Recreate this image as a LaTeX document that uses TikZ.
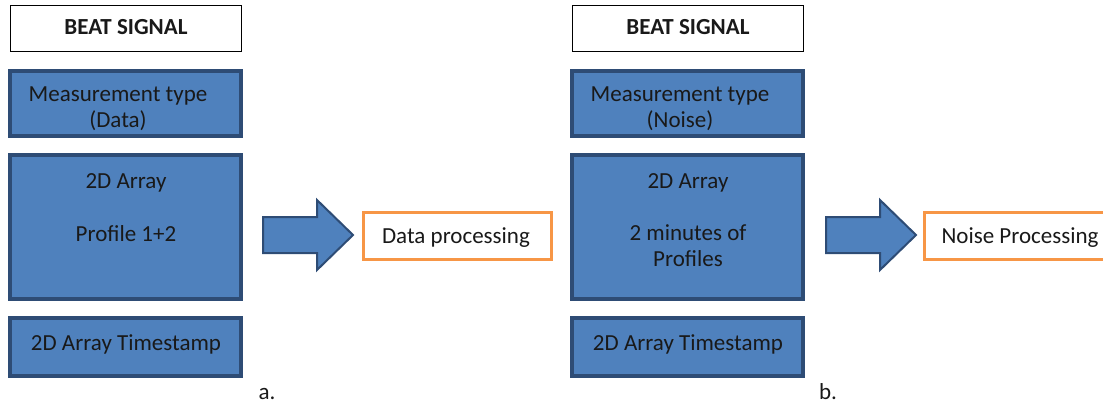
\documentclass[tikz,border=0pt]{standalone}
\usepackage{fontspec}
\setmainfont{Carlito}
\definecolor{boxfill}{HTML}{4F81BD}
\definecolor{boxline}{HTML}{2E4C75}
\definecolor{procline}{HTML}{F79646}
\tikzset{
  bluebox/.style={draw=boxline, fill=boxfill, line width=4pt, inner sep=0pt},
  titlebox/.style={draw=black, fill=white, line width=1pt, inner sep=0pt},
  procbox/.style={draw=procline, fill=white, line width=3pt, inner sep=0pt},
  lbl/.style={inner sep=0pt, anchor=base, text=black!90, font=\fontsize{23}{25}\selectfont},
  titlelbl/.style={lbl, font=\fontsize{23}{25}\selectfont\bfseries},
  blockarrow/.style={draw=boxline, fill=boxfill, line width=2pt, line join=miter},
}
\begin{document}
\begin{tikzpicture}[x=1pt, y=-1pt]
  \useasboundingbox (0,0) rectangle (1103,404);
  \clip (0,0) rectangle (1103,404);

  % ---- panel a: data measurement ----
  \node[titlebox, minimum width=231pt, minimum height=46pt] (titleA) at (126,28.5) {};
  \node[titlelbl] (titleAtxt) at (126,35) {BEAT SIGNAL};

  \node[bluebox, minimum width=231pt, minimum height=65pt] (measA) at (125.5,103.5) {};
  \node[lbl] (measAl1) at (118,102) {Measurement type};
  \node[lbl] (measAl2) at (118,127) {(Data)};

  \node[bluebox, minimum width=231pt, minimum height=144pt] (arrayA) at (125.5,227) {};
  \node[lbl] (arrayAl1) at (126,188) {2D Array};
  \node[lbl] (arrayAl2) at (126,241) {Profile 1+2};

  \node[bluebox, minimum width=231pt, minimum height=58pt] (stampA) at (125.5,347) {};
  \node[lbl] (stampAtxt) at (126,350) {2D Array Timestamp};

  \node[lbl] (tagA) at (267,399) {a.};

  \draw[blockarrow] (263,217) -- (317,217) -- (317,200) -- (353,235)
        -- (317,270) -- (317,253) -- (263,253) -- cycle;

  \node[procbox, minimum width=188pt, minimum height=47pt] (procA) at (457.5,236) {};
  \node[lbl] (procAtxt) at (456,243) {Data processing};

  % ---- panel b: noise measurement ----
  \node[titlebox, minimum width=231pt, minimum height=46pt] (titleB) at (688,28.5) {};
  \node[titlelbl] (titleBtxt) at (688,35) {BEAT SIGNAL};

  \node[bluebox, minimum width=231pt, minimum height=65pt] (measB) at (687.5,103.5) {};
  \node[lbl] (measBl1) at (680,102) {Measurement type};
  \node[lbl] (measBl2) at (680,127) {(Noise)};

  \node[bluebox, minimum width=231pt, minimum height=144pt] (arrayB) at (687.5,227) {};
  \node[lbl] (arrayBl1) at (688,188) {2D Array};
  \node[lbl] (arrayBl2) at (688,240) {2 minutes of};
  \node[lbl] (arrayBl3) at (688,266) {Profiles};

  \node[bluebox, minimum width=231pt, minimum height=58pt] (stampB) at (687.5,347) {};
  \node[lbl] (stampBtxt) at (688,350) {2D Array Timestamp};

  \node[lbl] (tagB) at (828,399) {b.};

  \draw[blockarrow] (826,217) -- (880,217) -- (880,200) -- (916,235)
        -- (880,270) -- (880,253) -- (826,253) -- cycle;

  \node[procbox, minimum width=191pt, minimum height=47pt] (procB) at (1020,236) {};
  \node[lbl] (procBtxt) at (1020,243) {Noise Processing};
\end{tikzpicture}
\end{document}
